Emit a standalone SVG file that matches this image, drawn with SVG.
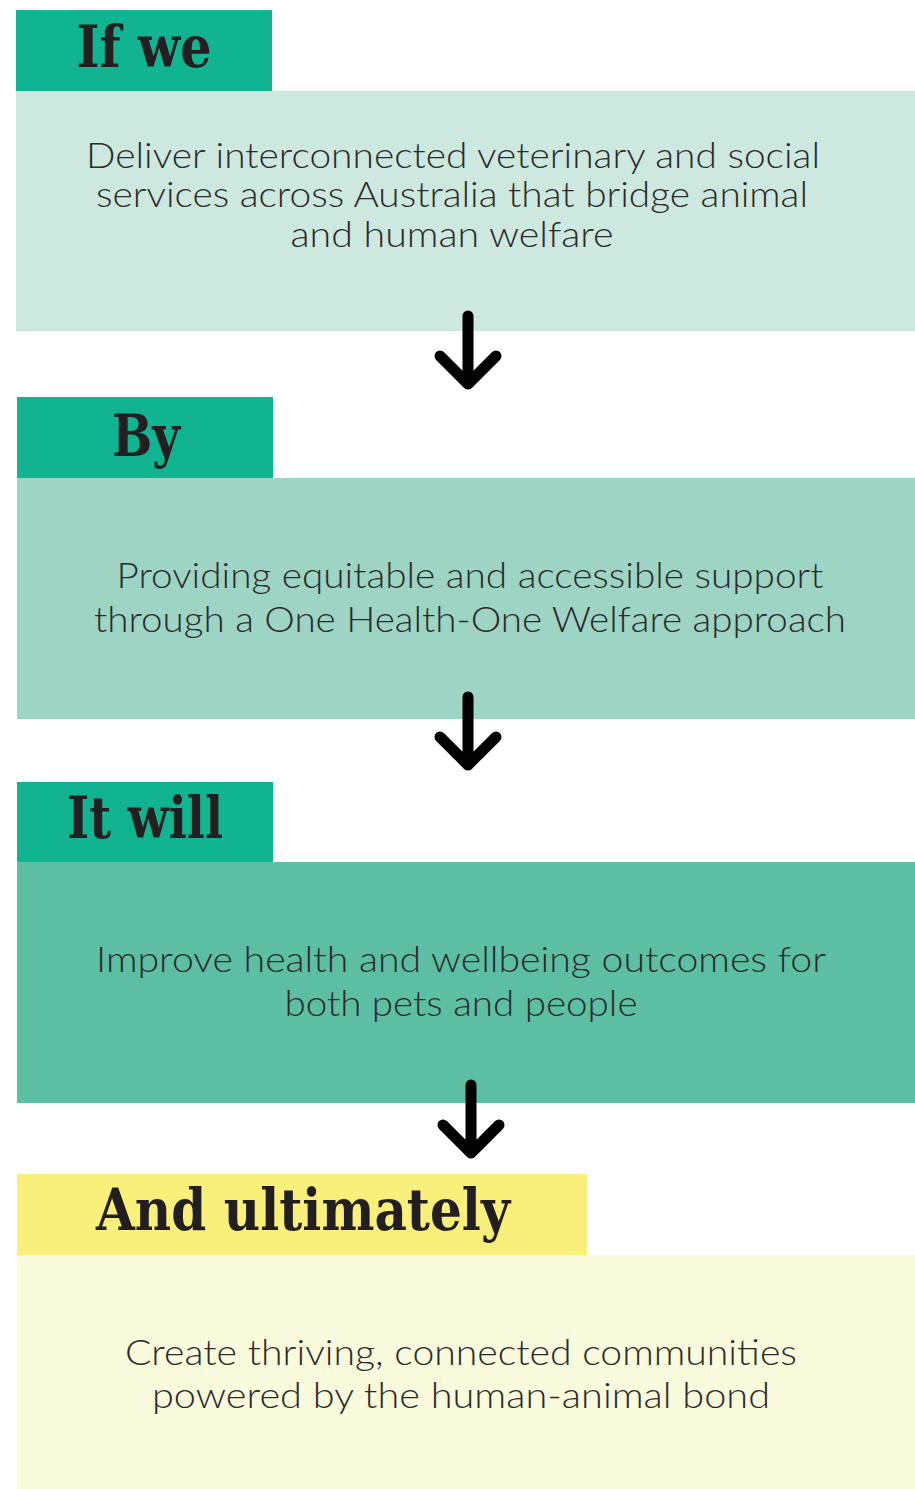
<svg xmlns="http://www.w3.org/2000/svg" width="915" height="1489" viewBox="0 0 915 1489">
  <defs>
    <style>
      .head { font-family: "DejaVu Serif", "Liberation Serif", serif; font-weight: bold; fill: #231f20; text-anchor: middle; }
      .body { font-family: "Lato", "Open Sans", "Liberation Sans", sans-serif; font-weight: 300; font-size: 35px; fill: #2b2b2b; text-anchor: middle; }
      .tab-teal { fill: #10b490; }
      .tab-yellow { fill: #f9ef7b; }
      .arrow { fill: none; stroke: #000; stroke-width: 11; stroke-linecap: round; stroke-linejoin: round; }
    </style>
  </defs>
  <rect width="915" height="1489" fill="#fff"/>

  <g id="if-we">
    <rect x="16" y="91" width="899" height="240" fill="#cde8df"/>
    <rect class="tab-teal" x="16" y="10" width="256" height="81"/>
    <text class="head" x="144" y="67" font-size="58" textLength="135" lengthAdjust="spacingAndGlyphs">If we</text>
    <text class="body" x="453" y="168" textLength="734" lengthAdjust="spacingAndGlyphs">Deliver interconnected veterinary and social</text>
    <text class="body" x="452" y="207" textLength="712" lengthAdjust="spacingAndGlyphs">services across Australia that bridge animal</text>
    <text class="body" x="452" y="247" textLength="323" lengthAdjust="spacingAndGlyphs">and human welfare</text>
  </g>

  <g id="by">
    <rect x="17" y="478" width="898" height="241" fill="#9dd4c3"/>
    <rect class="tab-teal" x="17" y="397" width="256" height="81"/>
    <text class="head" x="146" y="456" font-size="58" textLength="68" lengthAdjust="spacingAndGlyphs">By</text>
    <text class="body" x="470" y="588" textLength="707" lengthAdjust="spacingAndGlyphs">Providing equitable and accessible support</text>
    <text class="body" x="470" y="632" textLength="752" lengthAdjust="spacingAndGlyphs">through a One Health-One Welfare approach</text>
  </g>

  <g id="it-will">
    <rect x="17" y="862" width="898" height="241" fill="#5cbfa3"/>
    <rect class="tab-teal" x="17" y="782" width="256" height="80"/>
    <text class="head" x="145" y="838" font-size="58" textLength="156" lengthAdjust="spacingAndGlyphs">It will</text>
    <text class="body" x="461" y="972" textLength="730" lengthAdjust="spacingAndGlyphs">Improve health and wellbeing outcomes for</text>
    <text class="body" x="461" y="1016" textLength="353" lengthAdjust="spacingAndGlyphs">both pets and people</text>
  </g>

  <g id="and-ultimately">
    <rect x="17" y="1255" width="898" height="234" fill="#fafadc"/>
    <rect class="tab-yellow" x="17" y="1174" width="570" height="81"/>
    <text class="head" x="303" y="1230" font-size="58" textLength="414" lengthAdjust="spacingAndGlyphs">And ultimately</text>
    <text class="body" x="461" y="1365" textLength="672" lengthAdjust="spacingAndGlyphs">Create thriving, connected communities</text>
    <text class="body" x="461" y="1408" textLength="618" lengthAdjust="spacingAndGlyphs">powered by the human-animal bond</text>
  </g>

  <g id="connectors">
    <path class="arrow" d="M468 316 V384 M440 356 L468 384 L496 356"/>
    <path class="arrow" d="M468 697 V765 M440 737 L468 765 L496 737"/>
    <path class="arrow" d="M471 1085 V1153 M443 1125 L471 1153 L499 1125"/>
  </g>
</svg>
